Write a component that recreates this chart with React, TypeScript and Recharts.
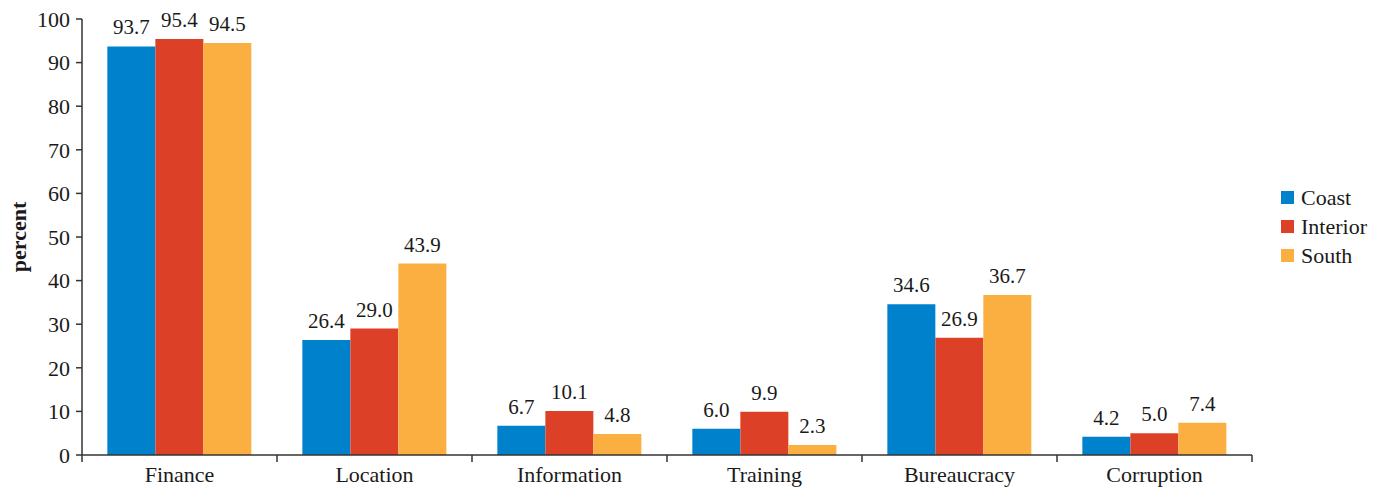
import React from "react";
import { BarChart, Bar, XAxis, YAxis, LabelList, Legend } from "recharts";

// obstacles by region, percent of firms
const categories = ["Finance", "Location", "Information", "Training", "Bureaucracy", "Corruption"];
const coast = [93.7, 26.4, 6.7, 6.0, 34.6, 4.2];
const interior = [95.4, 29.0, 10.1, 9.9, 26.9, 5.0];
const south = [94.5, 43.9, 4.8, 2.3, 36.7, 7.4];
const yTicks = [0, 10, 20, 30, 40, 50, 60, 70, 80, 90, 100];

const FONT = "Liberation Serif, Times New Roman, serif";
const TEXT = "#1a1a1a";
const AXIS = "#333";

const W = 1383;
const H = 487;
const margin = { top: 19, right: 131, bottom: 0, left: 0 };
const Y_AXIS_W = 82;
const X_AXIS_H = 32;

const data = categories.map((name, i) => ({
  name,
  Coast: coast[i],
  Interior: interior[i],
  South: south[i],
}));

// category label plus tick marks on the band edges
const CategoryTick = (props: any) => {
  const { x, y, payload, index } = props;
  const half = payload?.offset ?? (W - margin.right - Y_AXIS_W) / categories.length / 2;
  const last = index === categories.length - 1;
  return (
    <g>
      <line x1={x - half} x2={x - half} y1={y} y2={y + 7} stroke={AXIS} strokeWidth={1.5} />
      {last && <line x1={x + half} x2={x + half} y1={y} y2={y + 7} stroke={AXIS} strokeWidth={1.5} />}
      <text x={x} y={y + 27} textAnchor="middle" fontFamily={FONT} fontSize={22} fill={TEXT}>
        {payload.value}
      </text>
    </g>
  );
};

const PercentLabel = (props: any) => {
  const { viewBox } = props;
  const cx = viewBox.x + 18;
  const cy = viewBox.y + viewBox.height / 2;
  return (
    <text
      x={cx}
      y={cy}
      transform={`rotate(-90, ${cx}, ${cy})`}
      textAnchor="middle"
      dominantBaseline="central"
      fontFamily={FONT}
      fontSize={22}
      fontWeight="bold"
      fill={TEXT}
    >
      percent
    </text>
  );
};

const LegendList = (props: any) => {
  const { payload } = props;
  return (
    <div style={{ fontFamily: FONT, fontSize: 22, color: TEXT }}>
      {(payload || []).map((entry: any) => (
        <div key={entry.value} style={{ display: "flex", alignItems: "center", height: 29 }}>
          <span style={{ width: 13, height: 13, background: entry.color, display: "inline-block", marginRight: 7 }} />
          <span>{entry.value}</span>
        </div>
      ))}
    </div>
  );
};

const fmt = (v: any) => Number(v).toFixed(1);

export default function App() {
  return (
    <div style={{ position: "absolute", left: 0, top: 0, background: "#fff" }}>
      <BarChart
        width={W}
        height={H}
        data={data}
        margin={margin}
        barCategoryGap="13%"
        barGap={0}
      >
        <XAxis
          dataKey="name"
          tickLine={false}
          tickSize={0}
          tickMargin={0}
          axisLine={{ stroke: AXIS, strokeWidth: 1.5 }}
          tick={<CategoryTick />}
          interval={0}
          height={X_AXIS_H}
        />
        <YAxis
          width={Y_AXIS_W}
          domain={[0, 100]}
          ticks={yTicks}
          interval={0}
          tickSize={6}
          tickMargin={6}
          axisLine={{ stroke: AXIS, strokeWidth: 1.5 }}
          tickLine={{ stroke: AXIS, strokeWidth: 1.5 }}
          tick={{ fontFamily: FONT, fontSize: 22, fill: TEXT }}
          label={<PercentLabel />}
        />
        <Legend
          layout="horizontal"
          verticalAlign="middle"
          align="center"
          content={<LegendList />}
          wrapperStyle={{ left: 1281, top: 183, width: 100 }}
        />
        <Bar dataKey="Coast" fill="#0081cc" isAnimationActive={false}>
          <LabelList dataKey="Coast" position="top" offset={12} formatter={fmt} fontFamily={FONT} fontSize={21} fill={TEXT} />
        </Bar>
        <Bar dataKey="Interior" fill="#dc4128" isAnimationActive={false}>
          <LabelList dataKey="Interior" position="top" offset={12} formatter={fmt} fontFamily={FONT} fontSize={21} fill={TEXT} />
        </Bar>
        <Bar dataKey="South" fill="#fbaf41" isAnimationActive={false}>
          <LabelList dataKey="South" position="top" offset={12} formatter={fmt} fontFamily={FONT} fontSize={21} fill={TEXT} />
        </Bar>
      </BarChart>
    </div>
  );
}
